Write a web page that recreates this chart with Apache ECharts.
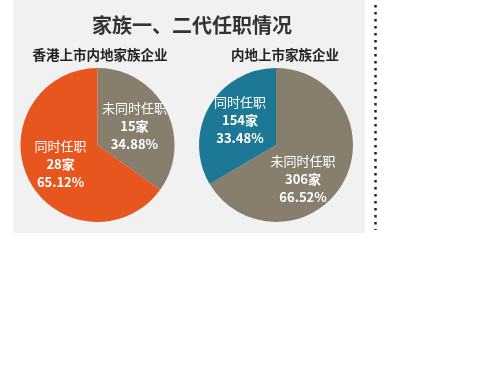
<!DOCTYPE html>
<html><head><meta charset="utf-8">
<script src="https://cdn.jsdelivr.net/npm/echarts@6/dist/echarts.min.js"></script>
<style>html,body{margin:0;padding:0;background:#fff}#c{width:500px;height:375px}</style>
</head><body><div id="c"></div>
<script>
const mainTitle = '家族一、二代任职情况';
const subTitles = ['香港上市内地家族企业', '内地上市家族企业'];
const leftNames = ['未同时任职', '同时任职'];
const leftValues = [15, 28];
const leftPercents = ['34.88%', '65.12%'];
const rightNames = ['未同时任职', '同时任职'];
const rightValues = [306, 154];
const rightPercents = ['66.52%', '33.48%'];

const FONT = '"Noto Sans CJK SC", "Noto Sans", sans-serif';
const GREY = '#877e6e', ORANGE = '#e8561f', BLUE = '#1d7896';

function makeData(names, values, percents, colors, offsets) {
  return names.map((n, i) => ({
    name: n, value: values[i], pct: percents[i],
    itemStyle: { color: colors[i] },
    label: offsets[i] ? { offset: offsets[i] } : {}
  }));
}
const labelCfg = {
  show: true, position: 'inside', color: '#fff', fontFamily: FONT,
  formatter: p => '{n|' + p.name + '}\n{b|' + p.value + '家}\n{b|' + p.data.pct + '}',
  rich: {
    n: { fontSize: 13, fontFamily: FONT, color: '#fff', lineHeight: 18 },
    b: { fontSize: 13, fontFamily: FONT, fontWeight: 'bold', color: '#fff', lineHeight: 18 }
  }
};

const chart = echarts.init(document.getElementById('c'));
chart.setOption({
  animation: false,
  graphic: [
    { type: 'rect', shape: { x: 13, y: 0, width: 352, height: 233 }, style: { fill: '#f1f1f1' }, z: -10 },
    { type: 'line', shape: { x1: 375.5, y1: 5, x2: 375.5, y2: 230 }, style: { stroke: '#222', lineWidth: 2.5, lineDash: [2.5, 4.5] } }
  ],
  title: [
    { text: mainTitle, left: 187, top: 10, textAlign: 'center', textStyle: { fontFamily: FONT, fontSize: 20, fontWeight: 'bold', color: '#333' } },
    { text: subTitles[0], left: 95, top: 43, textAlign: 'center', textStyle: { fontFamily: FONT, fontSize: 13.5, fontWeight: 'bold', color: '#222' } },
    { text: subTitles[1], left: 280, top: 43, textAlign: 'center', textStyle: { fontFamily: FONT, fontSize: 13.5, fontWeight: 'bold', color: '#222' } }
  ],
  series: [
    { type: 'pie', center: [97.5, 145], radius: 77, startAngle: 90, clockwise: true,
      label: labelCfg, labelLine: { show: false }, emphasis: { disabled: true },
      data: makeData(leftNames, leftValues, leftPercents, [GREY, ORANGE], [null, null]) },
    { type: 'pie', center: [276, 145], radius: 77, startAngle: 90, clockwise: true,
      label: labelCfg, labelLine: { show: false }, emphasis: { disabled: true },
      data: makeData(rightNames, rightValues, rightPercents, [GREY, BLUE], [[-9, 13], [0, -4]]) }
  ]
});
</script></body></html>
